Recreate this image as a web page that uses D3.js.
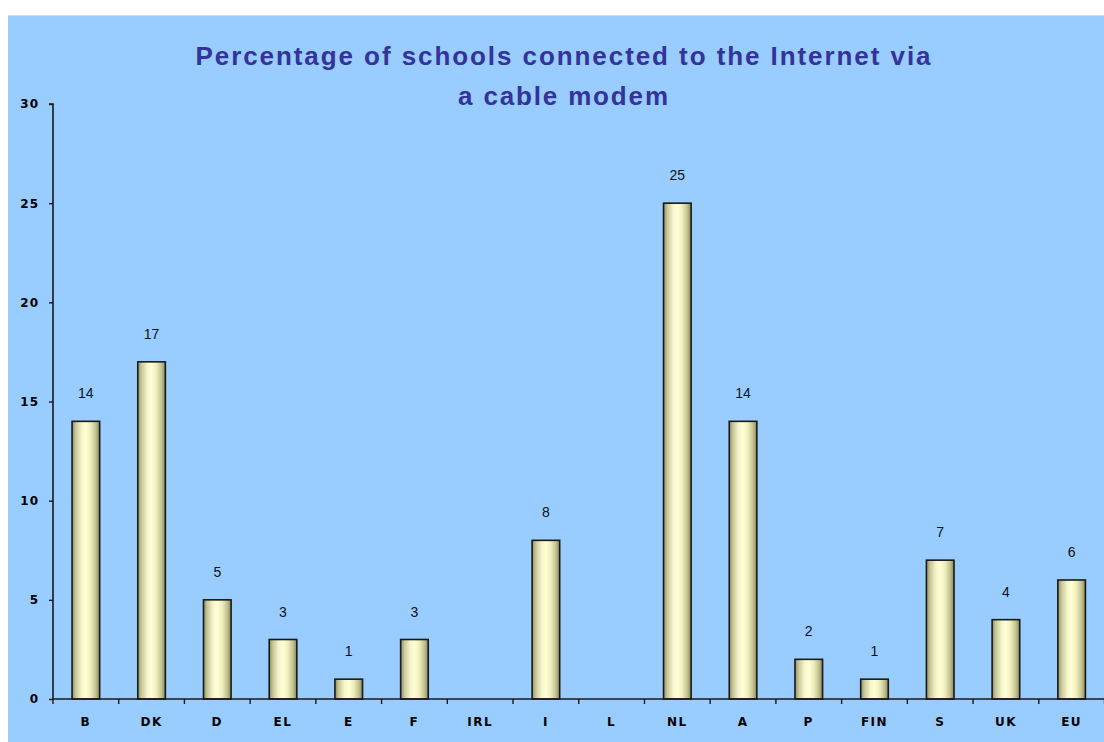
<!DOCTYPE html>
<html>
<head>
<meta charset="utf-8">
<script src="https://cdn.jsdelivr.net/npm/d3@7"></script>
<style>
  html, body { margin: 0; padding: 0; background: #ffffff; }
  svg { display: block; }
</style>
</head>
<body>
<svg id="chart" width="1104" height="742"></svg>
<script>
// Country codes along the x axis
const categories = ["B", "DK", "D", "EL", "E", "F", "IRL", "I", "L", "NL", "A", "P", "FIN", "S", "UK", "EU"];
// Share of schools with a cable-modem connection (%); null = no figure reported
const values = [14, 17, 5, 3, 1, 3, null, 8, null, 25, 14, 2, 1, 7, 4, 6];
// Y axis tick values
const yTicks = [0, 5, 10, 15, 20, 25, 30];
const titleLines = ["Percentage of schools connected to the Internet via", "a cable modem"];

const W = 1104, H = 742;
const svg = d3.select("#chart");

// chart area background
svg.append("rect")
  .attr("x", 8).attr("y", 15)
  .attr("width", W - 8).attr("height", H - 15)
  .attr("fill", "#99ccff");
svg.append("line")
  .attr("x1", 8).attr("x2", W).attr("y1", 15.5).attr("y2", 15.5)
  .attr("stroke", "#bfe0ff").attr("stroke-width", 1);

// bar shading, a lit cylinder look
const defs = svg.append("defs");
const grad = defs.append("linearGradient")
  .attr("id", "barGrad").attr("x1", "0%").attr("x2", "100%").attr("y1", "0%").attr("y2", "0%");
[
  [0, "#8e8e60"], [0.14, "#c9c99a"], [0.35, "#f6f6cc"], [0.5, "#ffffd6"],
  [0.68, "#eeeebb"], [0.86, "#c2c292"], [1, "#86865a"]
].forEach(([o, c]) => grad.append("stop").attr("offset", o).attr("stop-color", c));

const plotLeft = 53, plotRight = 1104.5, plotTop = 104, plotBottom = 699;

const x = d3.scaleBand()
  .domain(categories)
  .range([plotLeft, plotRight])
  .paddingInner(0.58)
  .paddingOuter(0.29);

const y = d3.scaleLinear().domain([0, 30]).range([plotBottom, plotTop]);

// title
const title = svg.append("text")
  .attr("text-anchor", "middle")
  .attr("font-family", "Liberation Sans, Arial, sans-serif")
  .attr("font-weight", "bold")
  .attr("font-size", 26)
  .attr("fill", "#333399");
title.append("tspan").attr("x", 563).attr("y", 65)
  .attr("textLength", 735).attr("lengthAdjust", "spacing").text(titleLines[0]);
title.append("tspan").attr("x", 563).attr("y", 105)
  .attr("textLength", 210).attr("lengthAdjust", "spacing").text(titleLines[1]);

// bars
const data = categories.map((c, i) => ({ c, v: values[i] })).filter(d => d.v !== null);

svg.append("g").selectAll("rect")
  .data(data)
  .join("rect")
  .attr("x", d => x(d.c))
  .attr("y", d => y(d.v))
  .attr("width", x.bandwidth())
  .attr("height", d => y(0) - y(d.v))
  .attr("fill", "url(#barGrad)")
  .attr("stroke", "#1a1a1a")
  .attr("stroke-width", 1.6);

// value labels above bars
svg.append("g").selectAll("text")
  .data(data)
  .join("text")
  .attr("x", d => x(d.c) + x.bandwidth() / 2)
  .attr("y", d => y(d.v) - 23)
  .attr("text-anchor", "middle")
  .attr("font-family", "Liberation Sans, Arial, sans-serif")
  .attr("font-size", 14)
  .attr("fill", "#111")
  .text(d => d.v);

// y axis
const yAxis = d3.axisLeft(y).tickValues(yTicks).tickSize(4).tickPadding(10);
const gy = svg.append("g").attr("transform", `translate(${plotLeft},0)`).call(yAxis);
gy.select(".domain").attr("stroke", "#1a1a1a").attr("stroke-width", 1.6).attr("d", `M-4,${plotTop}H0V${plotBottom}`);
gy.selectAll(".tick line").attr("stroke", "#1a1a1a").attr("stroke-width", 1.4);
gy.selectAll(".tick text")
  .attr("font-family", "DejaVu Sans, Verdana, sans-serif")
  .attr("font-weight", "bold")
  .attr("font-size", 12)
  .attr("letter-spacing", 1)
  .attr("fill", "#000");

// x axis: baseline with ticks at category boundaries
const step = x.step();
const boundaries = d3.range(categories.length + 1).map(i => plotLeft + i * step);
svg.append("line")
  .attr("x1", plotLeft).attr("x2", W).attr("y1", plotBottom).attr("y2", plotBottom)
  .attr("stroke", "#1a1a1a").attr("stroke-width", 1.6);
svg.append("g").selectAll("line")
  .data(boundaries)
  .join("line")
  .attr("x1", d => d).attr("x2", d => d)
  .attr("y1", plotBottom).attr("y2", plotBottom + 5)
  .attr("stroke", "#1a1a1a").attr("stroke-width", 1.4);

svg.append("g").selectAll("text")
  .data(categories)
  .join("text")
  .attr("x", d => x(d) + x.bandwidth() / 2)
  .attr("y", 726)
  .attr("text-anchor", "middle")
  .attr("font-family", "DejaVu Sans, Verdana, sans-serif")
  .attr("font-weight", "bold")
  .attr("font-size", 12)
  .attr("letter-spacing", 1.5)
  .attr("fill", "#000")
  .text(d => d);
</script>
</body>
</html>
